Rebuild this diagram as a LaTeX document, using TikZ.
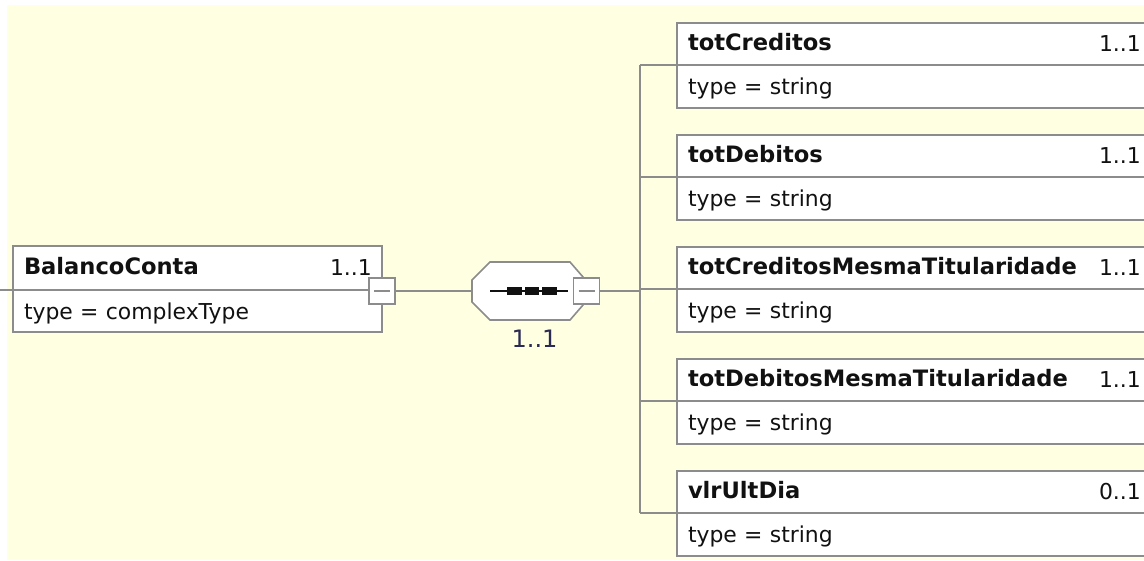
\documentclass[tikz,border=0pt]{standalone}
\usepackage{fontspec}
\setmainfont{DejaVu Sans}
\usetikzlibrary{positioning,calc}
\definecolor{xsBack}{HTML}{FFFFE1}
\definecolor{xsLine}{HTML}{8C8C8C}
\definecolor{xsInk}{HTML}{111111}
\definecolor{xsSeqInk}{HTML}{2A2A55}
\tikzset{
  conn/.style={draw=xsLine, line width=1.6pt},
  elhd/.style={draw=xsLine, fill=white, line width=1.6pt, anchor=north west, outer sep=0pt, minimum height=42pt, inner xsep=11pt, inner ysep=0pt, text width=#1, text height=16pt, text depth=4pt, align=left, text=xsInk, font=\bfseries\fontsize{22.6}{27}\selectfont},
  elhd/.default=450pt,
  eltp/.style={elhd=#1, minimum height=43pt, text depth=0pt, font=\fontsize{21.9}{26}\selectfont},
  eltp/.default=450pt,
  mult/.style={anchor=east, inner sep=0pt, text=xsInk, font=\fontsize{21.9}{26}\selectfont},
  btn/.style={draw=xsLine, fill=white, line width=1.6pt, outer sep=0pt, inner sep=0pt, minimum width=26pt, minimum height=26pt,
    path picture={\draw[xsLine, line width=1.2pt] ([xshift=5pt]path picture bounding box.west) -- ([xshift=-5pt]path picture bounding box.east);}},
}

\begin{document}
\begin{tikzpicture}[x=1pt,y=-1pt]
  \useasboundingbox (0,0) rectangle (1144,560);
  \fill[white] (0,0) rectangle (1144,560);
  \fill[xsBack] (7,5) rectangle (1144,560);
  % root element
  \coordinate (lin) at (0,290);
  \node[elhd=347pt, minimum height=44pt] (b) at (13,246) {BalancoConta};
  \node[eltp=347pt, minimum height=42pt] (bt) at (b.south west) {type = complexType};
  \node[mult] (bm) at ($(b.west)+(359,0)$) {1..1};
  \draw[conn] (lin) -- (b.south west);
  % sequence
  \node[inner sep=0pt, outer sep=0pt, minimum width=111pt, minimum height=58pt] (seq) at (527.5,291) {};
  \draw[xsLine, fill=white, line width=1.6pt] ($(seq.north west)+(18,0)$) -- ($(seq.north east)+(-13,0)$) -- ($(seq.north east)+(0,15)$)
    -- ($(seq.south east)+(0,-15)$) -- ($(seq.south east)+(-13,0)$) -- ($(seq.south west)+(18,0)$)
    -- ($(seq.south west)+(0,-18)$) -- ($(seq.north west)+(0,18)$) -- cycle;
  \draw[xsInk, line width=1.6pt] ($(seq.west)+(18,0)$) -- ($(seq.west)+(96,0)$);
  \foreach \k in {0,1,2} {
    \fill[xsInk] ($(seq.west)+(35+17.5*\k,-4)$) rectangle ++(14.5,8);
  }
  \node[mult, below=10pt of seq, xshift=7pt, text=xsSeqInk, font=\fontsize{24}{28}\selectfont] (sm) {1..1};
  \node[btn] (bbtn) at (382,291) {};
  \node[btn] (sbtn) at (586.5,291) {};
  \draw[conn] (bbtn.east) -- (seq.west);
  % child elements
  \coordinate (bar) at (640,291);
  \foreach \i/\nm/\mlt in {0/totCreditos/1..1, 1/totDebitos/1..1, 2/totCreditosMesmaTitularidade/1..1, 3/totDebitosMesmaTitularidade/1..1, 4/vlrUltDia/0..1} {
    \node[elhd] (c\i) at (677,23+112*\i) {\nm};
    \node[eltp] (t\i) at (c\i.south west) {type = string};
    \node[mult] (m\i) at ($(c\i.west)+(464,0)$) {\mlt};
    \draw[conn] (c\i.south west -| bar) -- (c\i.south west);
  }
  \draw[conn] (c0.south west -| bar) -- (c4.south west -| bar);
  \draw[conn] (sbtn.east) -- (sbtn.east -| bar);
\end{tikzpicture}
\end{document}
